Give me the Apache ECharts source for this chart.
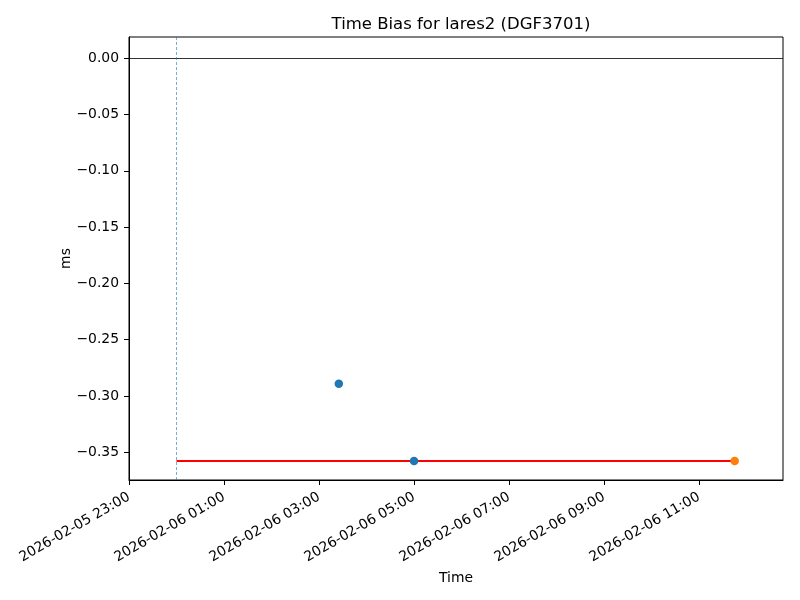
<!DOCTYPE html>
<html>
<head>
<meta charset="utf-8">
<script src="https://cdn.jsdelivr.net/npm/echarts@6/dist/echarts.min.js"></script>
<style>
html,body{margin:0;padding:0;background:#fff;}
#chart{width:800px;height:600px;}
</style>
</head>
<body>
<div id="chart"></div>
<script>
// ---- data ----
const titleText = 'Time Bias for lares2 (DGF3701)';
const baseTime = '2026-02-05T23:00:00Z';
const xMaxTime = '2026-02-06T12:46:00Z';
const xTickTimes = ['2026-02-05T23:00:00Z','2026-02-06T01:00:00Z','2026-02-06T03:00:00Z','2026-02-06T05:00:00Z','2026-02-06T07:00:00Z','2026-02-06T09:00:00Z','2026-02-06T11:00:00Z'];
const yTicks = [-0.35,-0.30,-0.25,-0.20,-0.15,-0.10,-0.05,0.00];
const yMin = -0.3746, yMax = 0.0189;
const blueTimes = ['2026-02-06T03:25:00Z','2026-02-06T05:00:00Z'];
const blueValues = [-0.289, -0.3577];
const orangeTimes = ['2026-02-06T11:45:00Z'];
const orangeValues = [-0.3577];
const redLineTimes = ['2026-02-06T00:00:00Z','2026-02-06T11:45:00Z'];
const redLineValues = [-0.3577, -0.3577];
const vlineTime = '2026-02-06T00:00:00Z';
const hlineValue = 0;

// ---- helpers ----
const base = Date.parse(baseTime);
const toH = t => (Date.parse(t) - base) / 3600000;
const pad = n => String(n).padStart(2,'0');
const fmtTime = h => {
  const d = new Date(base + Math.round(h*3600000));
  return d.getUTCFullYear()+'-'+pad(d.getUTCMonth()+1)+'-'+pad(d.getUTCDate())+' '+pad(d.getUTCHours())+':'+pad(d.getUTCMinutes());
};
const fmtY = v => { const s = Math.abs(v) < 1e-9 ? '0.00' : v.toFixed(2); return s.replace('-', '\u2212'); };
const xTicks = xTickTimes.map(toH);
const FONT = 'DejaVu Sans';

const chart = echarts.init(document.getElementById('chart'), null, {renderer:'canvas'});
chart.setOption({
  animation: false,
  backgroundColor: '#fff',
  textStyle: {fontFamily: FONT},
  title: {
    text: titleText, left: 456, top: 11, textAlign: 'center',
    textStyle: {fontFamily: FONT, fontSize: 16.5, fontWeight: 'normal', color: '#000'}
  },
  grid: {left: 129, right: 17, top: 37, bottom: 120, show: true, borderColor: '#000', borderWidth: 1, backgroundColor: 'transparent'},
  xAxis: {
    type: 'value', min: 0, max: toH(xMaxTime),
    name: 'Time', nameLocation: 'middle', nameGap: 91, nameMoveOverlap: false,
    nameTextStyle: {fontFamily: FONT, fontSize: 13.9, color: '#000'},
    axisLine: {show: true, onZero: false, lineStyle: {color: '#000', width: 1}},
    axisTick: {show: true, length: 5, lineStyle: {color: '#000', width: 1}, customValues: xTicks},
    axisLabel: {show: true, rotate: 30, margin: 16, fontFamily: FONT, fontSize: 13.9, color: '#000', customValues: xTicks, formatter: v => fmtTime(v)},
    splitLine: {show: false}
  },
  yAxis: {
    type: 'value', min: yMin, max: yMax,
    name: 'ms', nameLocation: 'middle', nameGap: 56, nameRotate: 90, nameMoveOverlap: false,
    nameTextStyle: {fontFamily: FONT, fontSize: 13.9, color: '#000'},
    axisLine: {show: true, onZero: false, lineStyle: {color: '#000', width: 1}},
    axisTick: {show: true, length: 5, lineStyle: {color: '#000', width: 1}, customValues: yTicks},
    axisLabel: {show: true, margin: 10, fontFamily: FONT, fontSize: 13.9, color: '#000', customValues: yTicks, formatter: v => fmtY(v)},
    splitLine: {show: false}
  },
  series: [
    {
      type: 'line', data: redLineTimes.map((t,i)=>[toH(t), redLineValues[i]]),
      symbol: 'none', lineStyle: {color: '#ff0000', width: 1.9}, z: 2,
      markLine: {
        silent: true, symbol: ['none','none'], label: {show: false},
        data: [
          {yAxis: hlineValue, lineStyle: {color: '#000', width: 0.8, type: 'solid'}},
          {xAxis: toH(vlineTime), lineStyle: {color: 'rgba(31,119,180,0.75)', width: 0.8, type: [3,2]}}
        ]
      }
    },
    {
      type: 'scatter', data: blueTimes.map((t,i)=>[toH(t), blueValues[i]]),
      symbol: 'circle', symbolSize: 8.5, itemStyle: {color: '#1f77b4', opacity: 1}, z: 3
    },
    {
      type: 'scatter', data: orangeTimes.map((t,i)=>[toH(t), orangeValues[i]]),
      symbol: 'circle', symbolSize: 8.5, itemStyle: {color: '#ff7f0e', opacity: 1}, z: 3
    }
  ]
});
</script>
</body>
</html>
